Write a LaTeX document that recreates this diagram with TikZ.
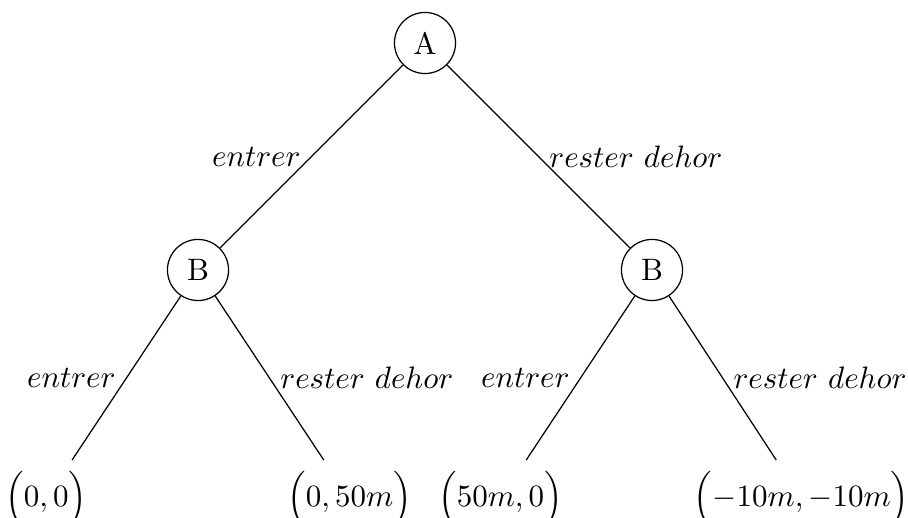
\documentclass[tikz,border=0pt]{standalone}
\usepackage{amsmath}
\begin{document}
\begin{tikzpicture}[x=0.3226pt,y=-0.3226pt,
  player/.style={circle,draw,line width=0.4pt,minimum size=19.7pt,inner sep=0pt},
  leaf/.style={rectangle,inner sep=3.33pt,anchor=base},
  edge/.style={line width=0.4pt}]
\useasboundingbox (0,0) rectangle (908,518);
\node[player] (A) at (425,43) {A};
\node[player] (BL) at (198,270) {B};
\node[player] (BR) at (652,270) {B};
\node[leaf] (L1) at (46.3,506.7) {$\Bigl(0,0\Bigr)$};
\node[leaf] (L2) at (349.5,506.7) {$\Bigl(0,50m\Bigr)$};
\node[leaf] (L3) at (500.5,506.7) {$\Bigl(50m,0\Bigr)$};
\node[leaf] (L4) at (801.7,506.7) {$\Bigl(-10m,-10m\Bigr)$};
\draw[edge] (A) -- node[midway,left]{$entrer$} (BL);
\draw[edge] (A) -- node[midway,right]{$rester\ dehor$} (BR);
\draw[edge] (BL) -- node[midway,left]{$entrer$} (L1);
\draw[edge] (BL) -- node[midway,right]{$rester\ dehor$} (L2);
\draw[edge] (BR) -- node[midway,left]{$entrer$} (L3);
\draw[edge] (BR) -- node[midway,right]{$rester\ dehor$} (L4);
\end{tikzpicture}
\end{document}
